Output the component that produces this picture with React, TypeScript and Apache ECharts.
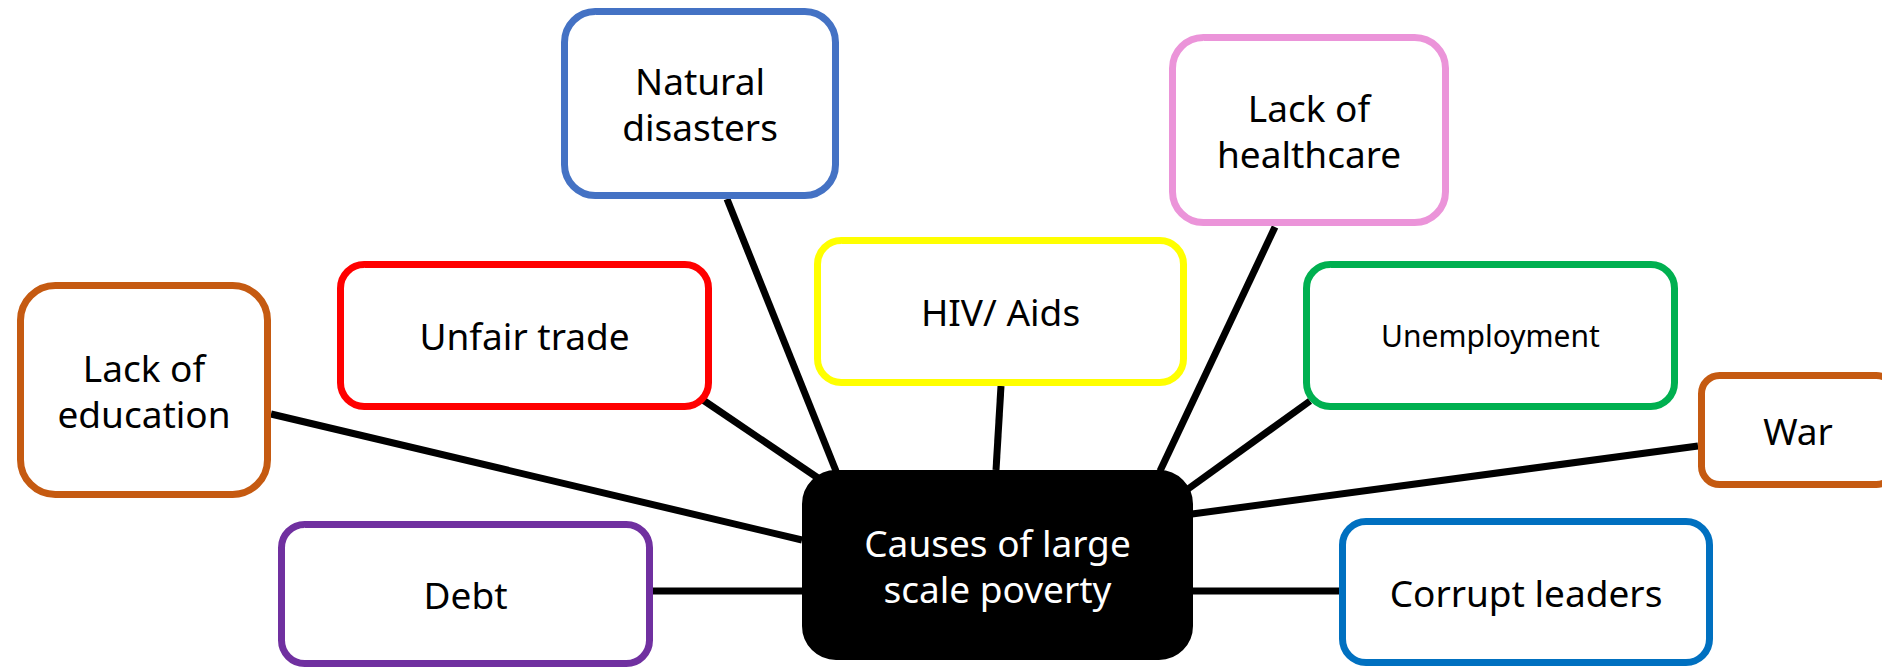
import React, { useEffect, useRef } from "react";
import * as echarts from "echarts";

// Diagram content
const labels = [
  "Natural\ndisasters",
  "Lack of\nhealthcare",
  "HIV/ Aids",
  "Unfair trade",
  "Lack of\neducation",
  "Debt",
  "Unemployment",
  "War",
  "Corrupt leaders",
  "Causes of large\nscale poverty",
];
const borderColors = [
  "#4472C4",
  "#EB94D9",
  "#FFFF00",
  "#FF0000",
  "#C55A11",
  "#7030A0",
  "#00B050",
  "#C55A11",
  "#0070C0",
  "#000000",
];
const fillColors = ["#fff", "#fff", "#fff", "#fff", "#fff", "#fff", "#fff", "#fff", "#fff", "#000"];
const textColors = ["#000", "#000", "#000", "#000", "#000", "#000", "#000", "#000", "#000", "#fff"];
const fontSizes = [37, 37, 37, 37, 37, 37, 30, 37, 37, 37];
// box outer bounds in diagram units
const boxLeft = [561, 1169, 814, 337, 17, 278, 1303, 1698, 1339, 802];
const boxRight = [839, 1449, 1187, 712, 271, 653, 1678, 1898, 1713, 1193];
const boxTop = [8, 34, 237, 261, 282, 521, 261, 372, 518, 470];
const boxBottom = [199, 226, 386, 410, 498, 667, 410, 488, 666, 660];

// connectors: [x1, y1, x2, y2]
const edges = [
  [271, 414, 802, 540],
  [703, 400, 818, 478],
  [727, 199, 836, 471],
  [1001, 386, 996, 470],
  [1275, 227, 1160, 471],
  [1310, 401, 1188, 489],
  [1698, 446, 1192, 514],
  [1193, 591, 1339, 591],
  [653, 591, 802, 591],
];

const W = 1882;
const H = 668;
const FONT = "'Comic Sans MS', 'Noto Sans', sans-serif";
const LINE_GAP = 46;

export default function App() {
  const ref = useRef<HTMLDivElement>(null);
  useEffect(() => {
    if (!ref.current) return;
    const chart = echarts.init(ref.current, undefined, { renderer: "svg" });
    const bw = 7;
    chart.setOption({
      animation: false,
      backgroundColor: "#ffffff",
      grid: { left: 0, right: 0, top: 0, bottom: 0 },
      xAxis: { type: "value", min: 0, max: W, show: false },
      yAxis: { type: "value", min: 0, max: H, inverse: true, show: false },
      series: [
        {
          type: "custom",
          z: 1,
          data: edges,
          renderItem: (_p: any, api: any) => {
            const a = api.coord([api.value(0), api.value(1)]);
            const b = api.coord([api.value(2), api.value(3)]);
            return {
              type: "line",
              shape: { x1: a[0], y1: a[1], x2: b[0], y2: b[1] },
              style: { stroke: "#000", lineWidth: 7 },
            };
          },
        },
        {
          type: "custom",
          z: 2,
          data: labels.map((_, i) => [i]),
          renderItem: (_p: any, api: any) => {
            const i = api.value(0);
            const p0 = api.coord([boxLeft[i] + bw / 2, boxTop[i] + bw / 2]);
            const p1 = api.coord([boxRight[i] - bw / 2, boxBottom[i] - bw / 2]);
            const w = p1[0] - p0[0];
            const h = p1[1] - p0[1];
            const r = Math.min(w, h) * 0.1667;
            const lines = labels[i].split("\n");
            const cy = p0[1] + h / 2;
            const texts = lines.map((t, k) => ({
              type: "text",
              style: {
                text: t,
                x: p0[0] + w / 2,
                y: cy + (k - (lines.length - 1) / 2) * LINE_GAP,
                align: "center",
                verticalAlign: "middle",
                fontSize: fontSizes[i],
                fontFamily: FONT,
                fill: textColors[i],
              },
            }));
            return {
              type: "group",
              children: [
                {
                  type: "rect",
                  shape: { x: p0[0], y: p0[1], width: w, height: h, r },
                  style: { fill: fillColors[i], stroke: borderColors[i], lineWidth: bw },
                },
                ...texts,
              ],
            };
          },
        },
      ],
    });
    return () => chart.dispose();
  }, []);
  return (
    <div
      ref={ref}
      style={{ position: "fixed", left: 0, top: 0, width: W, height: H, background: "#fff" }}
    />
  );
}
